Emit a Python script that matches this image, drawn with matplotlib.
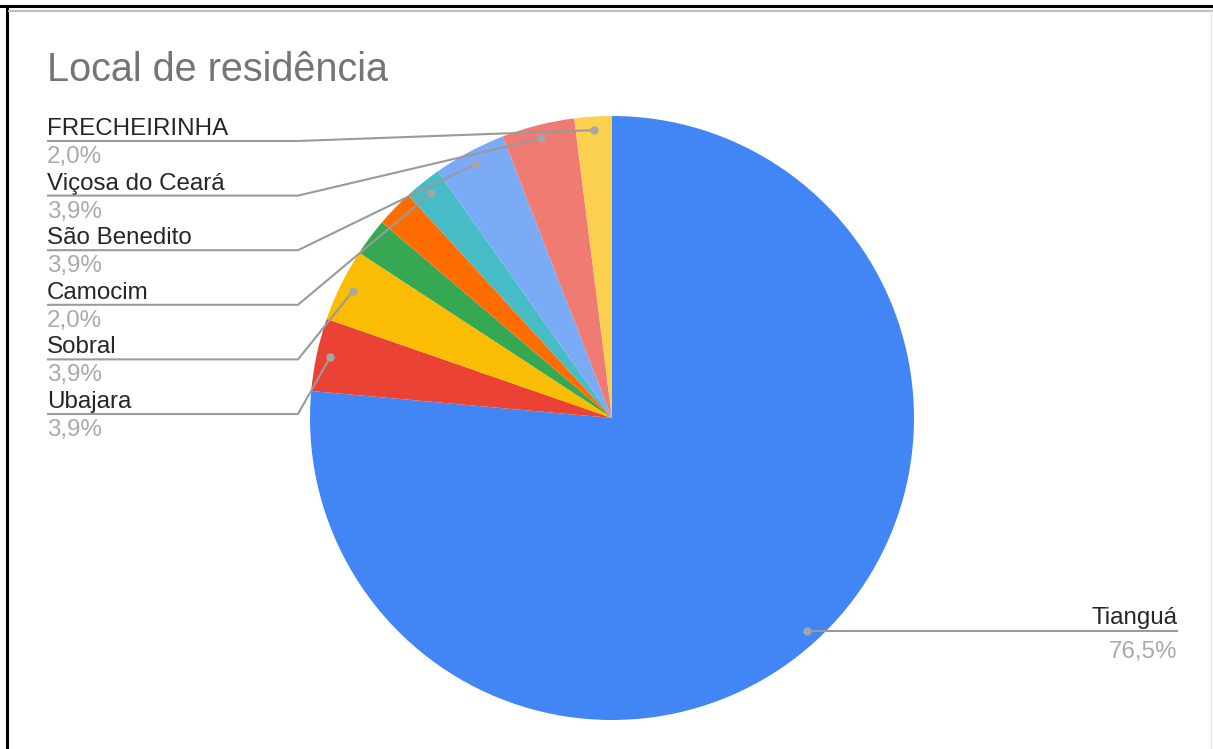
import matplotlib
matplotlib.use("Agg")
import numpy as np
import matplotlib.pyplot as plt
from matplotlib.lines import Line2D

plt.rcParams["font.family"] = ["Liberation Sans", "DejaVu Sans"]

# Slices in clockwise order starting at 12 o'clock (percent of respondents)
categories = ["Tianguá", "Ubajara", "Sobral", "", "", "Camocim",
              "São Benedito", "Viçosa do Ceará", "FRECHEIRINHA"]
percents = [76.5, 3.9, 3.9, 2.0, 2.0, 2.0, 3.9, 3.9, 2.0]
colors = ["#4285F4", "#EA4335", "#FBBC04", "#34A853", "#FF6D01",
          "#46BDC6", "#7BAAF7", "#F07B72", "#FCD04F"]
title = "Local de residência"

W, H = 1213, 749
fig = plt.figure(figsize=(W / 100, H / 100), dpi=100)
fig.patch.set_facecolor("white")

# Pie placement (pixels, origin top-left)
cx, cy, R = 612, 418, 302
ax = fig.add_axes([(cx - R) / W, (H - cy - R) / H, 2 * R / W, 2 * R / H])
wedges, _ = ax.pie(percents, colors=colors, startangle=90, counterclock=False,
                   radius=1, wedgeprops=dict(linewidth=0))
ax.set_xlim(-1, 1)
ax.set_ylim(-1, 1)
ax.set_axis_off()


def to_data(px, py):
    """Convert figure pixel position (top-left origin) to pie data coords."""
    return (px - cx) / R, (cy - py) / R


def fmt(p):
    return f"{p:.1f}".replace(".", ",") + "%"


name_color = "#262626"
pct_color = "#aaaaaa"
line_color = "#9a9a9a"
dot_color = "#a6a6a6"
fs = 17.4

# Dot anchor for each slice: mid-angle at 0.955 of radius
anchors = []
for w in wedges:
    mid = np.deg2rad((w.theta1 + w.theta2) / 2)
    anchors.append((0.955 * np.cos(mid), 0.955 * np.sin(mid)))

# Left-side labels, listed top to bottom
left_order = [8, 7, 6, 5, 2, 1]
x_text, x_elbow = 47, 298
base0, pitch = 135, 54.6
for k, i in enumerate(left_order):
    b = base0 + pitch * k
    tx, ty = to_data(x_text, b)
    ax.text(tx, ty, categories[i], fontsize=fs, color=name_color,
            ha="left", va="baseline", clip_on=False)
    px_, py_ = to_data(x_text, b + 28)
    ax.text(px_, py_, fmt(percents[i]), fontsize=fs, color=pct_color,
            ha="left", va="baseline", clip_on=False)
    x0, y0 = to_data(x_text, b + 6)
    x1, y1 = to_data(x_elbow, b + 6)
    dx, dy = anchors[i]
    ax.plot([x0, x1, dx], [y0, y1, dy], color=line_color, lw=1.5,
            clip_on=False, solid_capstyle="butt", zorder=3)
    ax.plot([dx], [dy], "o", ms=5, color=dot_color, clip_on=False, zorder=4)

# Right-side label for the largest slice
dx, dy = anchors[0]
xr, _ = to_data(1177, 0)
ax.plot([dx, xr], [dy, dy], color=line_color, lw=1.5, clip_on=False, zorder=3)
ax.plot([dx], [dy], "o", ms=5, color=dot_color, clip_on=False, zorder=4)
ax.text(xr, dy + 7 / R, categories[0], fontsize=fs, color=name_color,
        ha="right", va="baseline", clip_on=False)
ax.text(xr, dy - 27 / R, fmt(percents[0]), fontsize=fs, color=pct_color,
        ha="right", va="baseline", clip_on=False)

# Title
fig.text(47 / W, 1 - 81 / H, title, fontsize=28.5, color="#757575",
         ha="left", va="baseline")

# Outer frame
fig.add_artist(Line2D([0, 1], [1 - 6 / H, 1 - 6 / H], color="black", lw=2.2,
                      transform=fig.transFigure))
fig.add_artist(Line2D([7 / W, 7 / W], [0, 1 - 6 / H], color="black", lw=2.2,
                      transform=fig.transFigure))
fig.add_artist(Line2D([9 / W, 1], [1 - 11 / H, 1 - 11 / H], color="#bdbdbd",
                      lw=1.5, transform=fig.transFigure))
fig.add_artist(Line2D([1 - 2 / W, 1 - 2 / W], [0, 1 - 11 / H], color="#e6e6e6",
                      lw=1.0, transform=fig.transFigure))

fig.savefig("out.png", dpi=100, facecolor="white")
